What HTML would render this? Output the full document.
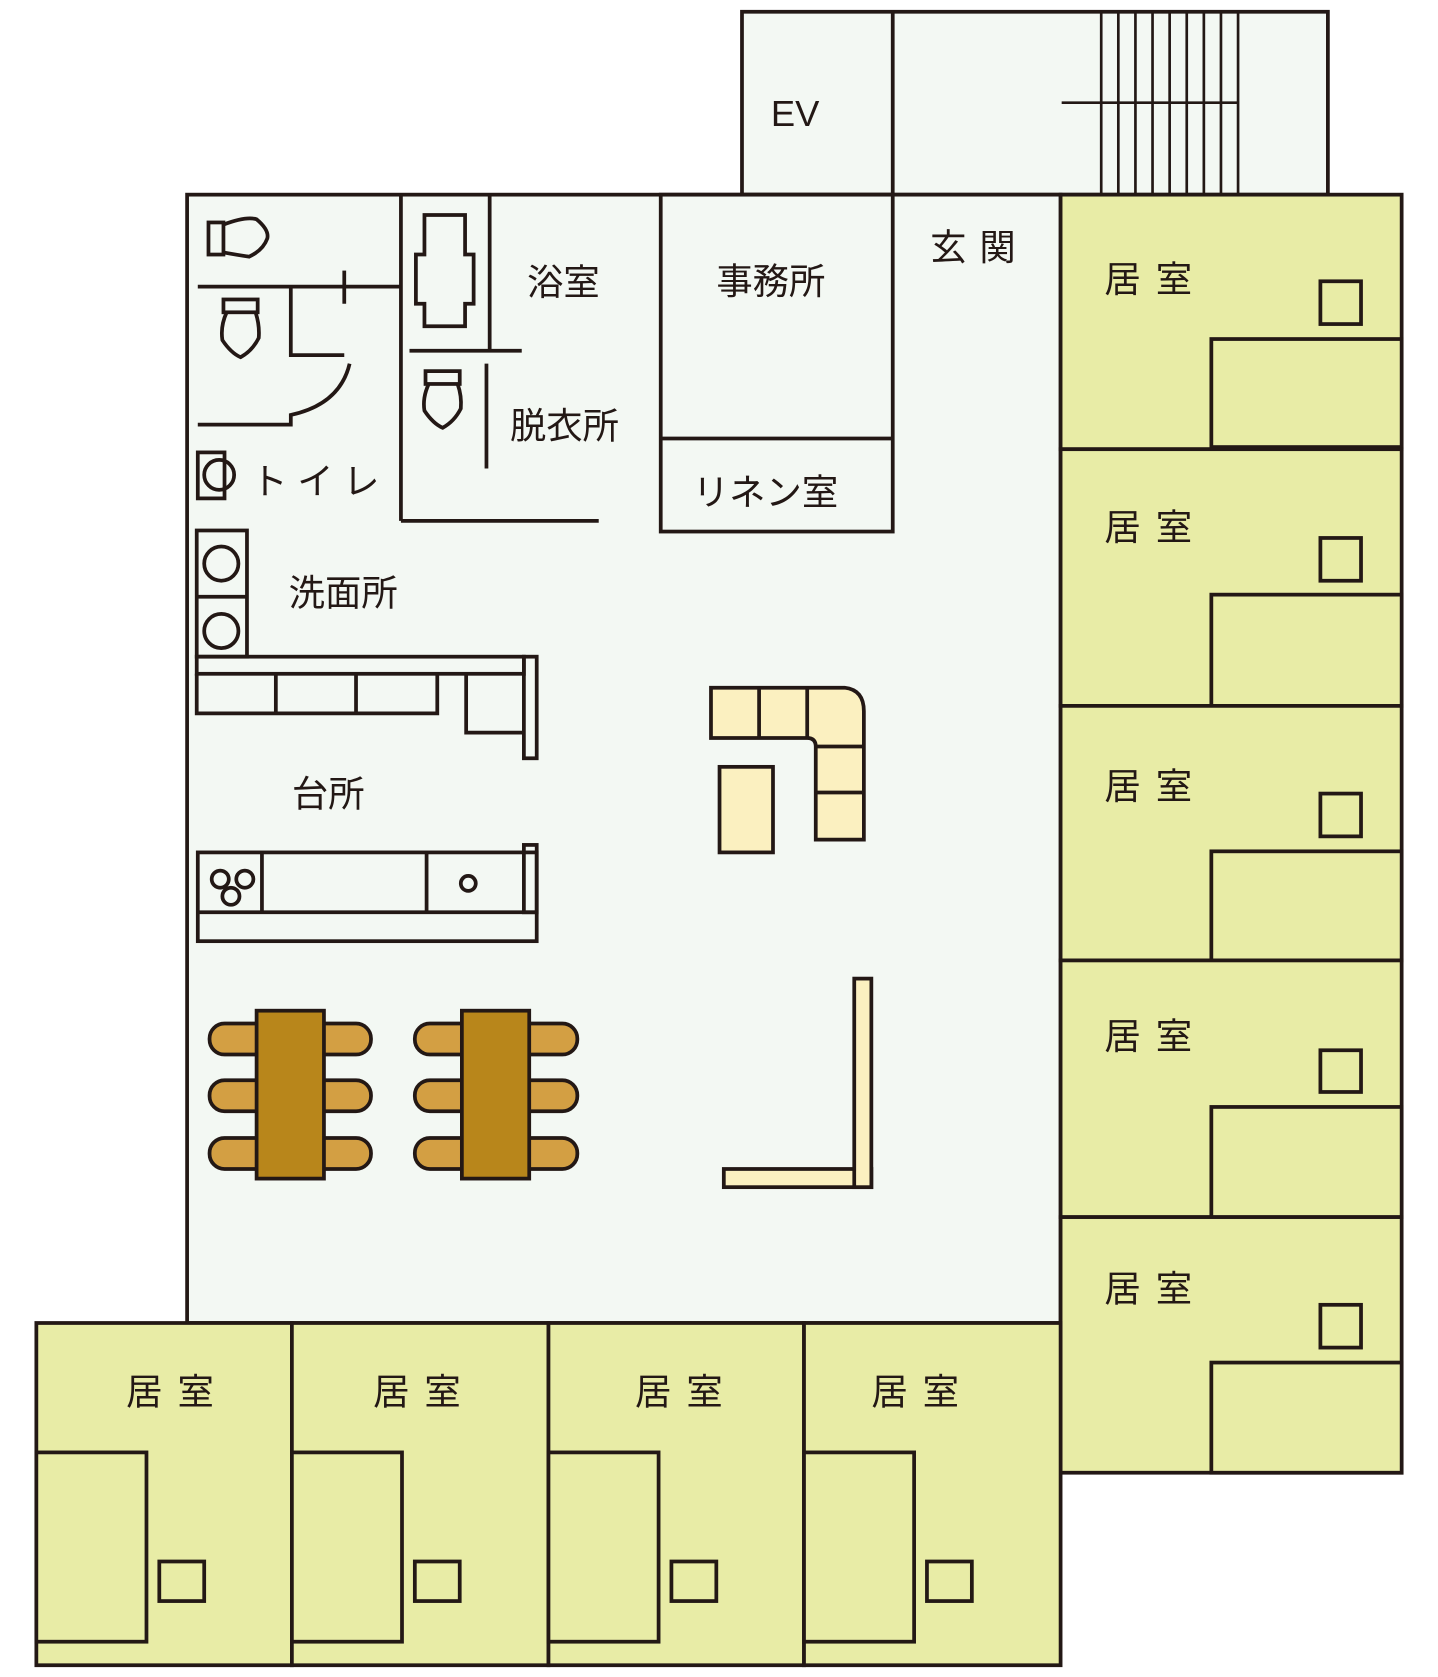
<!DOCTYPE html>
<html><head><meta charset="utf-8"><style>
html,body{margin:0;padding:0;background:#fff;}
svg{display:block;}
text{font-family:"Liberation Sans","Noto Sans CJK JP",sans-serif;fill:#231815;}
</style></head><body>
<svg width="1438" height="1677" viewBox="0 0 1345 1568" preserveAspectRatio="none" xmlns="http://www.w3.org/2000/svg">
<g stroke="#231815" stroke-width="3.5" fill="none">
<!-- EV / stairs -->
<rect x="694" y="11" width="548" height="171" fill="#f3f8f3"/>
<line x1="835" y1="11" x2="835" y2="182"/>
<g stroke-width="2.5">
<line x1="1030" y1="11" x2="1030" y2="182"/><line x1="1046" y1="11" x2="1046" y2="182"/>
<line x1="1062" y1="11" x2="1062" y2="182"/><line x1="1078" y1="11" x2="1078" y2="182"/>
<line x1="1094" y1="11" x2="1094" y2="182"/><line x1="1110" y1="11" x2="1110" y2="182"/>
<line x1="1126" y1="11" x2="1126" y2="182"/><line x1="1142" y1="11" x2="1142" y2="182"/>
<line x1="1158" y1="11" x2="1158" y2="182"/>
<line x1="993" y1="96" x2="1158" y2="96"/>
</g>
<!-- main -->
<rect x="175" y="182" width="817" height="1055" fill="#f3f8f3"/>
<!-- right rooms -->
<g fill="#e8eca6">
<rect x="992" y="182" width="319" height="238"/><rect x="1235" y="263" width="38" height="40"/><rect x="1133" y="317" width="178" height="101"/>
<rect x="992" y="420" width="319" height="240"/><rect x="1235" y="503" width="38" height="40"/><rect x="1133" y="556" width="178" height="104"/>
<rect x="992" y="660" width="319" height="238"/><rect x="1235" y="742" width="38" height="40"/><rect x="1133" y="796" width="178" height="102"/>
<rect x="992" y="898" width="319" height="240"/><rect x="1235" y="982" width="38" height="39"/><rect x="1133" y="1035" width="178" height="103"/>
<rect x="992" y="1138" width="319" height="239"/><rect x="1235" y="1220" width="38" height="40"/><rect x="1133" y="1274" width="178" height="103"/>
<!-- bottom rooms -->
<rect x="34" y="1237" width="239" height="320"/><rect x="34" y="1358" width="103" height="177"/><rect x="149" y="1460" width="42" height="37"/>
<rect x="273" y="1237" width="240" height="320"/><rect x="273" y="1358" width="103" height="177"/><rect x="388" y="1460" width="42" height="37"/>
<rect x="513" y="1237" width="239" height="320"/><rect x="513" y="1358" width="103" height="177"/><rect x="628" y="1460" width="42" height="37"/>
<rect x="752" y="1237" width="240" height="320"/><rect x="752" y="1358" width="103" height="177"/><rect x="867" y="1460" width="42" height="37"/>
</g>
<!-- toilet / bath -->
<line x1="375" y1="182" x2="375" y2="487"/><line x1="375" y1="487" x2="560" y2="487"/>
<line x1="458" y1="182" x2="458" y2="328"/><line x1="383" y1="328" x2="488" y2="328"/>
<line x1="455" y1="340" x2="455" y2="438"/>
<path d="M397 201 H435 V238 H443 V284 H435 V305 H397 V284 H389 V238 H397 Z"/>
<line x1="185" y1="268" x2="375" y2="268"/><line x1="322" y1="253" x2="322" y2="284"/>
<path d="M272 268 V332 H322"/>
<path d="M185 397 H272 V388 Q318 378 327 340"/>
<rect x="195" y="208" width="14" height="30"/>
<path d="M209 210 Q230 202 240 205 Q252 215 250 223 Q246 234 233 240 Q220 238 209 236"/>
<rect x="209" y="280" width="32" height="12"/>
<path d="M212 292 Q206 305 208 318 Q216 330 225 334 Q236 328 242 316 Q243 304 239 292"/>
<rect x="398" y="347" width="32" height="12"/>
<path d="M401 359 Q395 372 397 384 Q405 396 414 400 Q425 394 431 382 Q432 370 428 359"/>
<rect x="185" y="423" width="25" height="43"/><circle cx="205" cy="444" r="14"/>
<!-- office -->
<rect x="618" y="182" width="217" height="315"/><line x1="618" y1="410" x2="835" y2="410"/>
<!-- wash -->
<rect x="184" y="496" width="47" height="118"/><line x1="184" y1="558" x2="231" y2="558"/>
<circle cx="207" cy="527" r="16"/><circle cx="207" cy="590" r="16"/>
<rect x="184" y="614" width="306" height="16"/>
<path d="M184 630 V667 H409 V630 M258 630 V667 M333 630 V667"/>
<path d="M436 630 V685 H490"/>
<rect x="490" y="614" width="12" height="95"/>
<!-- kitchen -->
<rect x="185" y="797" width="317" height="83"/><line x1="185" y1="853" x2="502" y2="853"/>
<line x1="245" y1="797" x2="245" y2="853"/><line x1="399" y1="797" x2="399" y2="853"/>
<rect x="490" y="790" width="12" height="63"/>
<circle cx="206" cy="822" r="8"/><circle cx="229" cy="822" r="8"/><circle cx="216" cy="838" r="8"/>
<circle cx="438" cy="826" r="7"/>
<!-- tables -->
<g fill="#d39f43">
<rect x="196" y="957" width="151" height="29" rx="14"/><rect x="196" y="1010" width="151" height="29" rx="14"/><rect x="196" y="1064" width="151" height="29" rx="14"/>
<rect x="388" y="957" width="152" height="29" rx="14"/><rect x="388" y="1010" width="152" height="29" rx="14"/><rect x="388" y="1064" width="152" height="29" rx="14"/>
</g>
<rect x="240" y="945" width="63" height="157" fill="#b8861b"/>
<rect x="432" y="945" width="63" height="157" fill="#b8861b"/>
<!-- sofa -->
<g fill="#fbf0c0">
<path d="M665 643 H790 Q808 645 808 665 V785 H763 V698 Q763 690 755 690 H665 Z"/>
<rect x="673" y="717" width="50" height="80"/>
<rect x="677" y="1093" width="138" height="17"/>
<rect x="799" y="915" width="16" height="195"/>
</g>
<path d="M710 643 V690 M755 643 V690 M763 698 H808 M763 741 H808"/>
</g>
<rect x="801" y="1095" width="12" height="12" fill="#fbf0c0"/>
<!-- labels -->
<g font-size="34">
<text x="721" y="118">EV</text>
<text x="870" y="243" letter-spacing="12">玄関</text>
<text x="670" y="275">事務所</text>
<text x="648" y="472">リネン室</text>
<text x="493" y="276">浴室</text>
<text x="477" y="410">脱衣所</text>
<text x="235" y="462" letter-spacing="9">トイレ</text>
<text x="270" y="566">洗面所</text>
<text x="273" y="754">台所</text>
<g letter-spacing="14">
<text x="1033" y="273">居室</text><text x="1033" y="505">居室</text><text x="1033" y="747">居室</text>
<text x="1033" y="981">居室</text><text x="1033" y="1217">居室</text>
<text x="118" y="1313">居室</text><text x="349" y="1313">居室</text><text x="594" y="1313">居室</text><text x="815" y="1313">居室</text>
</g>
</g>
</svg>
</body></html>
